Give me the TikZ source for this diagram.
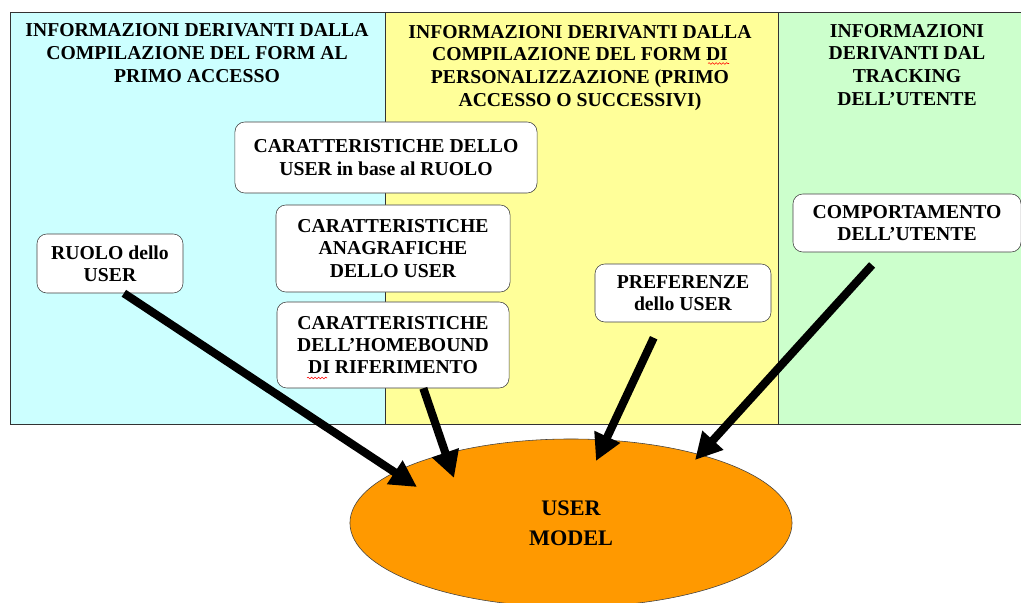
\documentclass[tikz,border=0pt]{standalone}
\usepackage{fontspec}
\setmainfont{Liberation Serif}
\usetikzlibrary{arrows.meta,shapes.geometric,decorations.pathmorphing}
\definecolor{celeste}{HTML}{CCFFFF}
\definecolor{giallo}{HTML}{FFFF99}
\definecolor{verde}{HTML}{CCFFCC}
\definecolor{arancio}{HTML}{FF9900}

\begin{document}
\begin{tikzpicture}[x=0.025cm,y=-0.025cm,
    titolo/.style={align=center,font=\fontsize{14}{16.3}\selectfont\bfseries},
    info/.style={draw=black!75,fill=white,rounded corners=7pt,align=center,inner sep=0pt,
      font=\fontsize{14}{15.8}\selectfont\bfseries},
    freccia/.style={line width=5.8pt,-{Triangle[length=19pt,width=19pt]}},
    sottolinea/.style={red,line width=0.4pt,decorate,decoration={snake,amplitude=0.6pt,segment length=2.5pt}}]
  \useasboundingbox (0,0) rectangle (1021,603);
  \draw[black!80,fill=celeste] (10,12) rectangle (385,424);
  \draw[black!80,fill=giallo] (385,12) rectangle (778,424);
  \draw[black!80,fill=verde] (778,12) rectangle (1030,424);

  \node[titolo] (t1) at (197,53) {INFORMAZIONI DERIVANTI DALLA\\COMPILAZIONE DEL FORM AL\\PRIMO ACCESSO};
  \node[titolo] (t2) at (580,68) {INFORMAZIONI DERIVANTI DALLA\\COMPILAZIONE DEL FORM DI\\PERSONALIZZAZIONE (PRIMO\\ACCESSO O SUCCESSIVI)};
  \node[titolo] (t3) at (907,65) {INFORMAZIONI\\DERIVANTI DAL\\TRACKING\\DELL'UTENTE};

  \node[info,minimum width=7.55cm,minimum height=1.775cm] (ruolocar) at (386,157.5) {CARATTERISTICHE DELLO\\USER in base al RUOLO};
  \node[info,minimum width=5.85cm,minimum height=2.175cm] (anagr) at (393,248.5) {CARATTERISTICHE\\ANAGRAFICHE\\DELLO USER};
  \node[info,minimum width=3.65cm,minimum height=1.475cm] (ruolo) at (110,263.5) {RUOLO dello\\USER};
  \node[info,minimum width=5.8cm,minimum height=2.15cm] (homeb) at (393,345) {CARATTERISTICHE\\DELL'HOMEBOUND\\DI RIFERIMENTO};
  \node[info,minimum width=4.4cm,minimum height=1.45cm] (pref) at (683,293) {PREFERENZE\\dello USER};
  \node[info,minimum width=5.7cm,minimum height=1.45cm] (comp) at (907,223) {COMPORTAMENTO\\DELL'UTENTE};

  \draw[sottolinea] (708,63.5) -- (729,63.5);
  \draw[sottolinea] (307,378) -- (327,378);

  \node[draw=black!75,fill=arancio,ellipse,minimum width=11.05cm,minimum height=4.2cm,
    align=center,font=\fontsize{15.8}{21}\selectfont\bfseries] (modello) at (571,523) {USER\\MODEL};

  \coordinate (m1) at (417,487);
  \coordinate (m2) at (454,478);
  \coordinate (m3) at (596,461);
  \coordinate (m4) at (695,460);
  \draw[freccia] (ruolo.-65) -- (m1);
  \draw[freccia] (homeb.-55) -- (m2);
  \draw[freccia] ([yshift=-11pt]pref.-135) -- (m3);
  \draw[freccia] ([yshift=-9pt]comp.-140) -- (m4);
\end{tikzpicture}
\end{document}
